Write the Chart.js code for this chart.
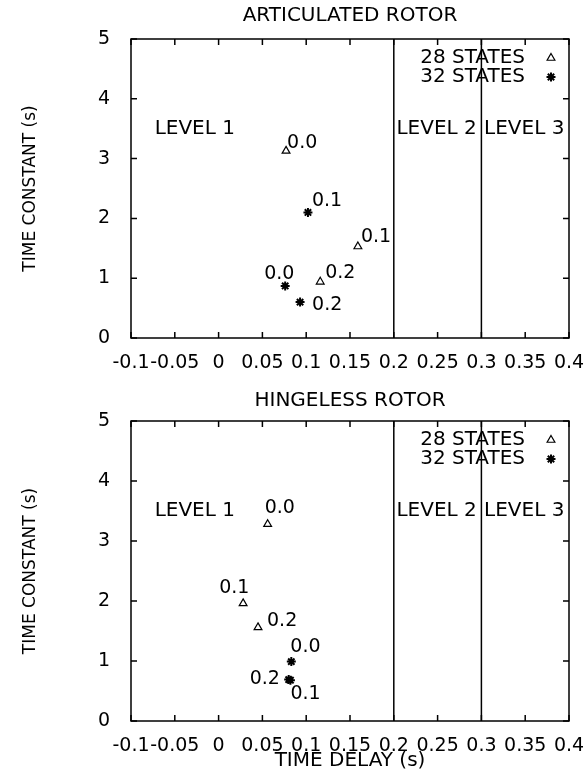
<!DOCTYPE html>
<html lang="en">
<head>
    <meta charset="UTF-8">
    <title>Articulated / Hingeless Rotor</title>
    <script src="https://cdn.jsdelivr.net/npm/chart.js@4.4.0/dist/chart.umd.min.js"></script>
    <style>
        body {
            margin: 0;
            background: #ffffff;
            font-family: "DejaVu Sans", sans-serif;
        }
        .panel {
            position: relative;
            width: 587px;
        }
        #top-panel { height: 380px; }
        #bottom-panel { height: 393px; }
    </style>
</head>
<body>
    <div class="panel" id="top-panel"><canvas id="articChart"></canvas></div>
    <div class="panel" id="bottom-panel"><canvas id="hingeChart"></canvas></div>

    <script>
        // axis ticks
        const xTickValues = [-0.1, -0.05, 0, 0.05, 0.1, 0.15, 0.2, 0.25, 0.3, 0.35, 0.4];
        const xTickLabels = ['-0.1', '-0.05', '0', '0.05', '0.1', '0.15', '0.2', '0.25', '0.3', '0.35', '0.4'];
        const yTicks = [0, 1, 2, 3, 4, 5];

        const seriesNames = ['28 STATES', '32 STATES'];
        const levelBounds = [0.2, 0.3];
        const levelNames = ['LEVEL 1', 'LEVEL 2', 'LEVEL 3'];

        // articulated rotor
        const artic28X = [0.077, 0.159, 0.116];
        const artic28Y = [3.13, 1.53, 0.94];
        const artic28Labels = ['0.0', '0.1', '0.2'];
        const artic32X = [0.076, 0.102, 0.093];
        const artic32Y = [0.87, 2.10, 0.60];
        const artic32Labels = ['0.0', '0.1', '0.2'];

        // hingeless rotor
        const hinge28X = [0.056, 0.028, 0.045];
        const hinge28Y = [3.28, 1.96, 1.56];
        const hinge28Labels = ['0.0', '0.1', '0.2'];
        const hinge32X = [0.083, 0.082, 0.080];
        const hinge32Y = [0.99, 0.68, 0.69];
        const hinge32Labels = ['0.0', '0.1', '0.2'];

        // where the text goes (pixel offsets of label from its point)
        const levelTextX = [-0.073, 0.203, 0.303];
        const levelTextY = 3.5;
        const artic28Offsets = [[1, -8], [3, -9], [5, -9]];
        const artic32Offsets = [[-21, -12], [4, -11], [12, 3]];
        const hinge28Offsets = [[-3, -16], [-24, -15], [9, -6]];
        const hinge32Offsets = [[-1, -15], [0, 14], [-39, -1]];

        const FONT = '"DejaVu Sans", sans-serif';

        function toPoints(xs, ys) {
            return xs.map((x, i) => ({ x: x, y: ys[i] }));
        }

        function levelLine(x) {
            return {
                label: 'level',
                data: [{ x: x, y: 0 }, { x: x, y: 5 }],
                showLine: true,
                pointRadius: 0,
                borderColor: '#000',
                borderWidth: 1.5
            };
        }

        const rotorDecor = {
            id: 'rotorDecor',
            afterDatasetsDraw(chart) {
                const ctx = chart.ctx;
                const { left, right, top, bottom } = chart.chartArea;
                const xs = chart.scales.x;
                const ys = chart.scales.y;
                ctx.save();

                // frame with inward ticks on all sides
                ctx.strokeStyle = '#000';
                ctx.lineWidth = 1.5;
                ctx.strokeRect(left, top, right - left, bottom - top);
                ctx.beginPath();
                xs.ticks.forEach(t => {
                    const px = xs.getPixelForValue(t.value);
                    ctx.moveTo(px, bottom); ctx.lineTo(px, bottom - 6);
                    ctx.moveTo(px, top); ctx.lineTo(px, top + 6);
                });
                ys.ticks.forEach(t => {
                    const py = ys.getPixelForValue(t.value);
                    ctx.moveTo(left, py); ctx.lineTo(left + 6, py);
                    ctx.moveTo(right, py); ctx.lineTo(right - 6, py);
                });
                ctx.stroke();

                ctx.fillStyle = '#000';
                ctx.textBaseline = 'middle';
                ctx.textAlign = 'left';

                // level regions
                ctx.font = '20px ' + FONT;
                levelNames.forEach((name, i) => {
                    ctx.fillText(name, xs.getPixelForValue(levelTextX[i]), ys.getPixelForValue(levelTextY));
                });

                // point labels
                ctx.font = '19px ' + FONT;
                chart.data.datasets.forEach((ds, di) => {
                    if (!ds.pointLabels) return;
                    const meta = chart.getDatasetMeta(di);
                    meta.data.forEach((pt, i) => {
                        const off = ds.labelOffsets[i];
                        ctx.fillText(ds.pointLabels[i], pt.x + off[0], pt.y + off[1]);
                    });
                });

                // key, top right
                ctx.font = '20px ' + FONT;
                let row = 0;
                chart.data.datasets.forEach(ds => {
                    if (!ds.pointLabels) return;
                    const y = top + 19 + row * 19;
                    ctx.textAlign = 'right';
                    ctx.fillStyle = '#000';
                    ctx.fillText(ds.label, right - 44, y);
                    ctx.fillStyle = ds.pointBackgroundColor;
                    ctx.strokeStyle = ds.pointBorderColor;
                    ctx.lineWidth = ds.pointBorderWidth;
                    Chart.helpers.drawPoint(ctx, {
                        pointStyle: ds.pointStyle,
                        radius: ds.pointRadius,
                        borderWidth: ds.pointBorderWidth
                    }, right - 18, y);
                    row++;
                });
                ctx.restore();
            }
        };

        function buildChart(id, opts) {
            return new Chart(document.getElementById(id), {
                type: 'scatter',
                data: {
                    datasets: [
                        levelLine(levelBounds[0]),
                        levelLine(levelBounds[1]),
                        {
                            label: seriesNames[0],
                            data: toPoints(opts.x28, opts.y28),
                            pointStyle: 'triangle',
                            pointRadius: 4.5,
                            pointBorderWidth: 1.2,
                            pointBorderColor: '#000',
                            pointBackgroundColor: 'rgba(0,0,0,0)',
                            pointLabels: opts.l28,
                            labelOffsets: opts.o28
                        },
                        {
                            label: seriesNames[1],
                            data: toPoints(opts.x32, opts.y32),
                            pointStyle: 'star',
                            pointRadius: 4.5,
                            pointBorderWidth: 2,
                            pointBorderColor: '#000',
                            pointBackgroundColor: '#000',
                            pointLabels: opts.l32,
                            labelOffsets: opts.o32
                        }
                    ]
                },
                options: {
                    responsive: true,
                    maintainAspectRatio: false,
                    animation: false,
                    events: [],
                    layout: { padding: { left: 0, right: 18, top: 0, bottom: 0 } },
                    plugins: {
                        legend: { display: false },
                        tooltip: { enabled: false },
                        title: {
                            display: true,
                            text: opts.title,
                            fullSize: false,
                            color: '#000',
                            font: { family: FONT, size: 20, weight: 'normal' },
                            padding: opts.titlePad
                        }
                    },
                    scales: {
                        x: {
                            type: 'linear',
                            min: -0.1,
                            max: 0.4,
                            grid: { display: false },
                            border: { display: false },
                            afterBuildTicks: s => { s.ticks = xTickValues.map(v => ({ value: v })); },
                            afterFit: s => {
                                s.height = opts.xHeight;
                                s.paddingLeft = 0;
                                s.paddingRight = 0;
                            },
                            ticks: {
                                autoSkip: false,
                                maxRotation: 0,
                                minRotation: 0,
                                padding: 6,
                                color: '#000',
                                font: { family: FONT, size: 19 },
                                callback: (v, i) => xTickLabels[i]
                            },
                            title: {
                                display: !!opts.xTitle,
                                text: opts.xTitle || '',
                                color: '#000',
                                font: { family: FONT, size: 20, weight: 'normal' },
                                padding: { top: 0, bottom: 0 }
                            }
                        },
                        y: {
                            min: 0,
                            max: 5,
                            grid: { display: false },
                            border: { display: false },
                            afterBuildTicks: s => { s.ticks = yTicks.map(v => ({ value: v })); },
                            afterFit: s => { s.width = 131; },
                            ticks: {
                                padding: 13,
                                color: '#000',
                                font: { family: FONT, size: 19 },
                                callback: v => String(v)
                            },
                            title: {
                                display: true,
                                text: 'TIME CONSTANT (s)',
                                color: '#000',
                                font: { family: FONT, size: 17, weight: 'normal' },
                                padding: { top: 20, bottom: 0 }
                            }
                        }
                    }
                },
                plugins: [rotorDecor]
            });
        }

        buildChart('articChart', {
            title: 'ARTICULATED ROTOR',
            titlePad: { top: 4, bottom: 11 },
            xHeight: 42,
            x28: artic28X, y28: artic28Y, l28: artic28Labels, o28: artic28Offsets,
            x32: artic32X, y32: artic32Y, l32: artic32Labels, o32: artic32Offsets
        });

        buildChart('hingeChart', {
            title: 'HINGELESS ROTOR',
            titlePad: { top: 9, bottom: 8 },
            xHeight: 52,
            xTitle: 'TIME DELAY (s)',
            x28: hinge28X, y28: hinge28Y, l28: hinge28Labels, o28: hinge28Offsets,
            x32: hinge32X, y32: hinge32Y, l32: hinge32Labels, o32: hinge32Offsets
        });
    </script>
</body>
</html>
